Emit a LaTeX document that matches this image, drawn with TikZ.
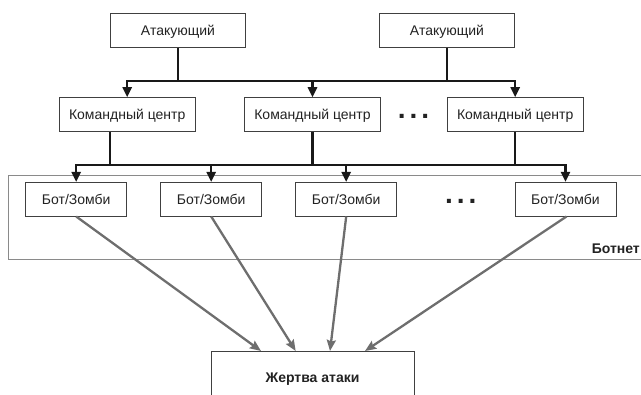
\documentclass[tikz,border=0pt]{standalone}
\usepackage{fontspec}
\setmainfont{Liberation Sans}
\usetikzlibrary{arrows.meta}
\definecolor{boxline}{HTML}{404040}
\definecolor{txt}{HTML}{222222}
\definecolor{grayarr}{HTML}{6E6E6E}
\definecolor{netline}{HTML}{8A8A8A}
\tikzset{
  box/.style={draw=boxline, line width=0.9pt, inner sep=0pt, text=txt,
    font=\fontsize{14}{16}\selectfont, text height=10pt, text depth=0pt},
  blk/.style={draw=black!90, line width=2.4pt},
  blkarr/.style={blk, -{Triangle[length=10pt,width=9pt]}},
  grayline/.style={draw=grayarr, line width=2.3pt, -{Stealth[length=11pt,width=9pt,inset=1.5pt]}},
  dotsnode/.style={inner sep=0pt, font=\bfseries\fontsize{28}{28}\selectfont, text=txt}
}
\begin{document}
\begin{tikzpicture}[x=1pt,y=-1pt]
\useasboundingbox (0,0) rectangle (641,395);
% botnet frame
\draw[draw=netline, line width=0.9pt] (8.3,175) rectangle (660,259);
\node[anchor=east, inner sep=0pt, text=txt, font=\bfseries\fontsize{14}{16}\selectfont,
  text height=10pt, text depth=0pt] (botnet) at (640,249) {Ботнет};
% attackers
\node[box, minimum width=135.7pt, minimum height=34pt] (a1) at (178,30.3) {Атакующий};
\node[box, minimum width=135.7pt, minimum height=34pt] (a2) at (447,30.3) {Атакующий};
% command centres
\node[box, minimum width=135.7pt, minimum height=34pt] (c1) at (127.2,114.7) {Командный центр};
\node[box, minimum width=135.7pt, minimum height=34pt] (c2) at (312.5,114.7) {Командный центр};
\node[box, minimum width=135.7pt, minimum height=34pt] (c3) at (515.2,114.7) {Командный центр};
\node[dotsnode] (d1) at (413.6,116) {.\hspace{4pt}.\hspace{4pt}.};
% bots
\node[box, minimum width=101pt, minimum height=33.7pt] (b1) at (76.2,199.2) {Бот/Зомби};
\node[box, minimum width=101pt, minimum height=33.7pt] (b2) at (211.2,199.2) {Бот/Зомби};
\node[box, minimum width=101pt, minimum height=33.7pt] (b3) at (346.2,199.2) {Бот/Зомби};
\node[box, minimum width=101pt, minimum height=33.7pt] (b4) at (565.5,199.2) {Бот/Зомби};
\node[dotsnode] (d2) at (460.8,201) {.\hspace{4pt}.\hspace{4pt}.};
% victim
\node[box, anchor=north, minimum width=203pt, minimum height=51.4pt,
  font=\bfseries\fontsize{14}{16}\selectfont] (v) at (312.5,351) {Жертва атаки};
% upper bus
\coordinate (busA) at (0,81);
\draw[blk] (a1.south|-busA) -- (a2.south|-busA);
\draw[blkarr] (a1.south) -- (a1.south|-busA) -| (c1.north);
\draw[blkarr] (a2.south) -- (a2.south|-busA) -| (c3.north);
\draw[blkarr] (c2.north|-busA) -- (c2.north);
% lower bus
\coordinate (busB) at (0,165);
\draw[blk] (b1.north|-busB) -- (b4.north|-busB);
\draw[blkarr] ([xshift=-17pt]c1.south) -- ([xshift=-17pt]c1.south|-busB) -| (b1.north);
\draw[blkarr] (c3.south) -- (c3.south|-busB) -| (b4.north);
\draw[blk] (c2.south) -- (c2.south|-busB);
\draw[blkarr] (b2.north|-busB) -- (b2.north);
\draw[blkarr] (b3.north|-busB) -- (b3.north);
% attack arrows
\draw[grayline] (b1.south) -- ([xshift=-51.5pt]v.north);
\draw[grayline] (b2.south) -- ([xshift=-16.8pt]v.north);
\draw[grayline] (b3.south) -- ([xshift=17.5pt]v.north);
\draw[grayline] ([xshift=1pt]b4.south) -- ([xshift=52.5pt]v.north);
\end{tikzpicture}
\end{document}
